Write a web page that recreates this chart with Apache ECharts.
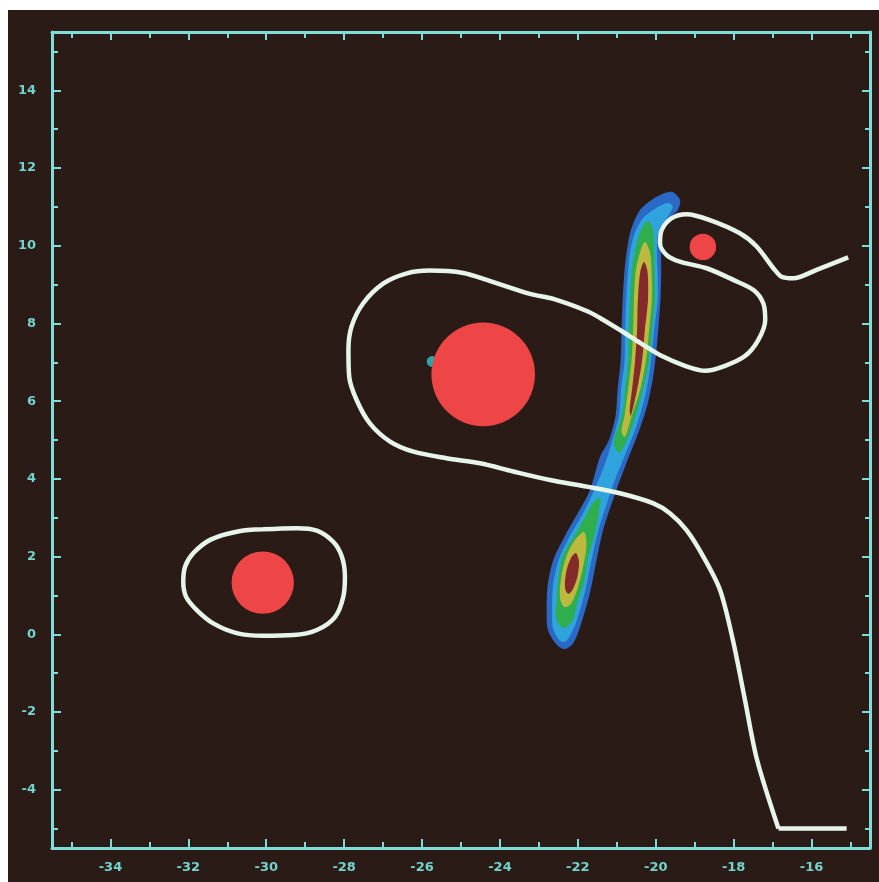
<!DOCTYPE html>
<html><head><meta charset="utf-8">
<script src="https://cdn.jsdelivr.net/npm/echarts@6/dist/echarts.min.js"></script>
<style>
html,body{margin:0;padding:0;background:#fff;width:879px;height:882px;overflow:hidden}
#c{position:absolute;left:8px;top:10px;width:871px;height:872px;}
</style>
</head><body><div id="c"></div>
<script>
// ---- axis ticks ----
const xMajor = [-34,-32,-30,-28,-26,-24,-22,-20,-18,-16];
const xMinor = [-35,-33,-31,-29,-27,-25,-23,-21,-19,-17,-15];
const yMajor = [-4,-2,0,2,4,6,8,10,12,14];
const yMinor = [-5,-3,-1,1,3,5,7,9,11,13,15];

// ---- red discs: [x, y, radius] in data units ----
const discs = [[-24.43,6.69,1.33],[-30.09,1.33,0.80],[-18.79,9.97,0.34]];
// tiny teal blob beside the big disc: [x, y, radius]
const tinyBlob = [[-25.74,7.02,0.14]];

// ---- white curves ----
const loopLeft = [[-30.08,2.70],[-29.22,2.73],[-28.70,2.67],[-28.28,2.38],[-28.06,2.00],[-27.98,1.48],[-28.02,0.97],[-28.23,0.45],[-28.70,0.11],[-29.30,-0.02],[-30.08,-0.04],[-30.76,0.03],[-31.36,0.28],[-31.79,0.63],[-32.06,0.97],[-32.13,1.35],[-32.08,1.75],[-31.87,2.09],[-31.44,2.43],[-30.76,2.64],[-30.08,2.70]];
const mainCurve = [[-15.06,9.70],[-15.87,9.38],[-16.47,9.16],[-16.77,9.20],[-16.98,9.42],[-17.41,9.98],[-17.84,10.32],[-18.61,10.66],[-19.21,10.81],[-19.59,10.71],[-19.85,10.40],[-19.89,10.06],[-19.72,9.76],[-19.38,9.59],[-18.69,9.42],[-18.01,9.12],[-17.49,8.86],[-17.24,8.52],[-17.19,8.09],[-17.37,7.57],[-17.71,7.16],[-18.22,6.91],[-18.73,6.78],[-19.25,6.91],[-19.84,7.16],[-20.40,7.50],[-20.92,7.83],[-21.43,8.14],[-21.77,8.32],[-22.63,8.63],[-23.23,8.76],[-24.34,9.12],[-24.94,9.30],[-25.80,9.36],[-26.39,9.29],[-26.99,9.03],[-27.51,8.52],[-27.81,7.92],[-27.89,7.32],[-27.87,6.63],[-27.68,6.03],[-27.34,5.43],[-26.82,4.96],[-26.22,4.70],[-25.37,4.53],[-24.51,4.40],[-23.66,4.19],[-22.71,3.97],[-21.77,3.80],[-20.92,3.63],[-20.06,3.37],[-19.63,3.11],[-19.21,2.68],[-18.78,2.00],[-18.35,1.14],[-18.02,-0.15],[-17.71,-1.69],[-17.40,-3.23],[-16.85,-5.00]];
const tailCurve = [[-16.85,-5.00],[-15.10,-5.00]];

// ---- filled contour levels (outer to inner) ----
const levelBlue = [[-19.59,11.39],[-19.38,11.18],[-19.43,10.92],[-19.63,10.74],[-19.81,10.46],[-19.86,9.94],[-19.86,9.30],[-19.88,8.60],[-19.93,7.91],[-19.99,7.24],[-20.08,6.55],[-20.22,5.88],[-20.42,5.26],[-20.69,4.57],[-20.92,3.97],[-21.13,3.37],[-21.35,2.69],[-21.52,1.91],[-21.69,1.06],[-21.94,0.20],[-22.12,-0.23],[-22.33,-0.38],[-22.54,-0.27],[-22.77,0.11],[-22.80,0.55],[-22.78,1.22],[-22.63,1.91],[-22.35,2.50],[-22.00,3.12],[-21.69,3.71],[-21.43,4.57],[-21.20,5.00],[-21.03,5.64],[-20.98,6.29],[-20.90,7.06],[-20.88,7.83],[-20.85,8.60],[-20.80,9.38],[-20.74,9.89],[-20.64,10.40],[-20.40,10.92],[-19.98,11.26]];
const levelCyan = [[-19.68,11.10],[-19.56,11.00],[-19.68,10.77],[-19.92,10.40],[-19.97,9.89],[-19.95,9.30],[-19.95,8.60],[-20.03,7.91],[-20.10,7.24],[-20.19,6.55],[-20.33,5.90],[-20.53,5.26],[-20.80,4.59],[-21.05,3.97],[-21.25,3.38],[-21.47,2.69],[-21.65,1.91],[-21.82,1.09],[-22.05,0.29],[-22.23,-0.09],[-22.35,-0.20],[-22.48,-0.15],[-22.64,0.16],[-22.66,0.57],[-22.64,1.22],[-22.50,1.89],[-22.23,2.48],[-21.89,3.07],[-21.59,3.69],[-21.33,4.31],[-21.11,5.00],[-20.94,5.64],[-20.89,6.29],[-20.80,7.06],[-20.79,7.83],[-20.76,8.60],[-20.71,9.38],[-20.65,9.89],[-20.53,10.35],[-20.33,10.71],[-19.94,11.00]];
const levelGreenUpper = [[-20.20,10.64],[-20.07,10.40],[-20.04,9.89],[-20.03,9.38],[-20.02,8.60],[-20.10,7.83],[-20.17,7.06],[-20.33,6.29],[-20.51,5.64],[-20.74,5.00],[-20.94,4.67],[-21.07,4.87],[-21.05,5.08],[-20.87,5.64],[-20.79,6.29],[-20.71,7.06],[-20.69,7.83],[-20.66,8.60],[-20.61,9.38],[-20.53,9.89],[-20.40,10.35]];
const levelGreenLower = [[-21.43,3.53],[-21.46,3.15],[-21.57,2.56],[-21.74,1.96],[-21.84,1.35],[-22.02,0.78],[-22.15,0.32],[-22.38,0.16],[-22.56,0.42],[-22.54,0.94],[-22.50,1.45],[-22.38,2.04],[-22.07,2.56],[-21.79,3.07],[-21.59,3.41]];
const levelYellowUpper = [[-20.28,10.10],[-20.15,9.84],[-20.11,9.38],[-20.10,8.60],[-20.17,7.83],[-20.25,7.06],[-20.40,6.29],[-20.61,5.64],[-20.79,5.08],[-20.88,5.21],[-20.80,5.64],[-20.71,6.29],[-20.62,7.06],[-20.58,7.83],[-20.56,8.60],[-20.51,9.38],[-20.40,9.84]];
const levelYellowLower = [[-21.84,2.63],[-21.78,2.30],[-21.87,1.71],[-22.02,1.14],[-22.18,0.78],[-22.35,0.70],[-22.46,0.94],[-22.43,1.45],[-22.30,1.99],[-22.07,2.43]];
const levelRedUpper = [[-20.30,9.58],[-20.21,9.32],[-20.20,8.60],[-20.28,7.83],[-20.35,7.06],[-20.48,6.29],[-20.64,5.62],[-20.67,5.77],[-20.61,6.29],[-20.53,7.06],[-20.48,7.83],[-20.46,8.60],[-20.40,9.32]];
const levelRedLower = [[-22.05,2.09],[-21.97,1.86],[-22.02,1.45],[-22.15,1.12],[-22.25,1.04],[-22.33,1.19],[-22.30,1.60],[-22.18,1.96]];

const contourLevels = [
  {pts: levelBlue, color: '#2a6ac6'},
  {pts: levelCyan, color: '#2fa3de'},
  {pts: levelGreenUpper, color: '#2fae4e'},
  {pts: levelGreenLower, color: '#2fae4e'},
  {pts: levelYellowUpper, color: '#bdb93e'},
  {pts: levelYellowLower, color: '#bdb93e'},
  {pts: levelRedUpper, color: '#852a2a'},
  {pts: levelRedLower, color: '#852a2a'}
];

const xMin = -35.5, xMax = -14.5, yMin = -5.5, yMax = 15.5;
const frame = '#7fdcd6';
const labelStyle = {color:'#72d4cc', fontFamily:'DejaVu Sans', fontWeight:'bold', fontSize:13};

function xAx(pos, vals, len, lbl, line) {
  return {type:'value', position:pos, min:xMin, max:xMax, gridIndex:0,
    axisLine:{show:line, onZero:false, lineStyle:{color:frame, width:3}},
    axisTick:{show:true, inside:true, length:len, customValues:vals, lineStyle:{color:frame, width:2}},
    axisLabel:Object.assign({show:lbl, customValues:vals, margin:13}, labelStyle),
    splitLine:{show:false}};
}
function yAx(pos, vals, len, lbl, line) {
  return {type:'value', position:pos, min:yMin, max:yMax, gridIndex:0,
    axisLine:{show:line, onZero:false, lineStyle:{color:frame, width:3}},
    axisTick:{show:true, inside:true, length:len, customValues:vals, lineStyle:{color:frame, width:2}},
    axisLabel:Object.assign({show:lbl, customValues:vals, margin:16}, labelStyle),
    splitLine:{show:false}};
}

const chart = echarts.init(document.getElementById('c'), null, {renderer:'canvas'});
const lineStyle = {color:'#e6f4ea', width:4.5};
chart.setOption({
  backgroundColor:'#2b1b16',
  animation:false,
  grid:{left:44, top:22, width:818, height:816, containLabel:false},
  xAxis:[xAx('bottom', xMajor, 9, true, true), xAx('bottom', xMinor, 6, false, false),
         xAx('top', xMajor, 8, false, true), xAx('top', xMinor, 6, false, false)],
  yAxis:[yAx('left', yMajor, 9, true, true), yAx('left', yMinor, 6, false, false),
         yAx('right', yMajor, 8, false, true), yAx('right', yMinor, 5, false, false)],
  series:[
    {type:'custom', xAxisIndex:0, yAxisIndex:0, z:1, silent:true,
     data: contourLevels.map((d,i)=>[i]),
     renderItem:function(params, api){
       const lev = contourLevels[params.dataIndex];
       const pts = lev.pts.map(p=>api.coord(p));
       return {type:'polygon', shape:{points:pts, smooth:0.3}, style:{fill:lev.color, stroke:null}};
     }},
    {type:'custom', xAxisIndex:0, yAxisIndex:0, z:2, silent:true,
     data: tinyBlob,
     renderItem:function(params, api){
       const c = api.coord([api.value(0), api.value(1)]);
       const s = api.size([api.value(2), api.value(2)]);
       return {type:'circle', shape:{cx:c[0], cy:c[1], r:s[0]}, style:{fill:'#2aa6a8'}};
     }},
    {type:'custom', xAxisIndex:0, yAxisIndex:0, z:3, silent:true,
     data: discs,
     renderItem:function(params, api){
       const c = api.coord([api.value(0), api.value(1)]);
       const s = api.size([api.value(2), api.value(2)]);
       return {type:'circle', shape:{cx:c[0], cy:c[1], r:s[0]}, style:{fill:'#ee4646'}};
     }},
    {type:'line', data:loopLeft, showSymbol:false, smooth:0.35, z:4, lineStyle:lineStyle, silent:true},
    {type:'line', data:mainCurve, showSymbol:false, smooth:0.3, z:4, lineStyle:lineStyle, silent:true},
    {type:'line', data:tailCurve, showSymbol:false, smooth:false, z:4, lineStyle:lineStyle, silent:true}
  ]
});
</script></body></html>
